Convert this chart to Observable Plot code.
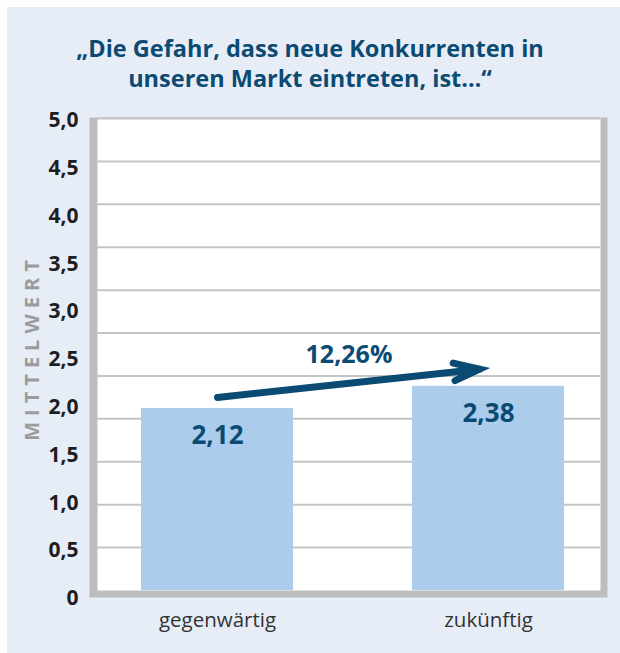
<!DOCTYPE html>
<html>
<head>
<meta charset="utf-8">
<script src="https://cdn.jsdelivr.net/npm/d3@7"></script>
<script src="https://cdn.jsdelivr.net/npm/@observablehq/plot@0.6"></script>
<style>
  body { margin: 0; background: #ffffff; }
  #page { position: relative; width: 620px; height: 653px; overflow: hidden; }
  #panel { position: absolute; left: 7px; top: 7px; right: 0; bottom: 0; background: #e6edf7; }
  #title { position: absolute; left: 0; top: 33px; width: 620px; text-align: center;
           font-family: "Open Sans", sans-serif; font-weight: 700; font-size: 23.5px;
           line-height: 30px; color: #0b4a72; }
  #chart, #axis { position: absolute; left: 0; top: 100px; }
  #axis { pointer-events: none; }
</style>
</head>
<body>
<div id="page">
  <div id="panel"></div>
  <div id="title"></div>
  <div id="chart"></div>
  <div id="axis"></div>
</div>
<script>
// ---- data ----
const titleLines = ["„Die Gefahr, dass neue Konkurrenten in", "unseren Markt eintreten, ist…“"];
const categories = ["gegenwärtig", "zukünftig"];
const values = [2.12, 2.38];
const yTickValues = [0, 0.5, 1, 1.5, 2, 2.5, 3, 3.5, 4, 4.5, 5];
const gridValues = [0.5, 1, 1.5, 2, 2.5, 3, 3.5, 4, 4.5, 5, 5.5];
const gridMax = 5.5;
const arrowY = [2.25, 2.59];
const yLabel = "MITTELWERT";

const data = categories.map((c, i) => ({cat: c, value: values[i]}));
const de = (v, d) => v.toFixed(d).replace(".", ",");
const change = (values[1] / values[0] - 1) * 100;
const changeLabel = de(change, 2) + "%";

document.getElementById("title").innerHTML = titleLines.join("<br>");

const W = 620, H = 553;
const darkBlue = "#0b4a72";

const main = Plot.plot({
  width: W, height: H,
  marginTop: 18, marginBottom: 63, marginLeft: 97, marginRight: 20,
  style: {background: "transparent", fontFamily: "'Open Sans', sans-serif", fontSize: "20.5px", color: "#333333"},
  x: {domain: categories, range: [101, 604], paddingInner: 0.44, paddingOuter: 0.147,
      tickSize: 0, tickPadding: 22, label: null},
  y: {domain: [0, gridMax], axis: null},
  marks: [
    Plot.frame({fill: "#bdbdbd", insetLeft: -8, insetRight: -7, insetBottom: -7, insetTop: -1}),
    Plot.frame({fill: "white"}),
    Plot.ruleY(gridValues, {stroke: "#c4c4c4", strokeWidth: 2}),
    Plot.barY(data, {x: "cat", y: "value", fill: "#abcdeb"}),
    Plot.text(data, {x: "cat", y: "value", text: d => de(d.value, 2), dy: 27,
      fill: darkBlue, fontSize: 26, fontWeight: "bold"}),
    Plot.arrow([{}], {x1: () => categories[0], x2: () => categories[1],
      y1: () => arrowY[0], y2: () => arrowY[1],
      stroke: darkBlue, strokeWidth: 7, headLength: 5.8, headAngle: 38, insetEnd: 9,
      strokeLinejoin: "miter", strokeMiterlimit: 10}),
    Plot.text([changeLabel], {frameAnchor: "middle", text: d => d,
      fill: darkBlue, fontSize: 25, fontWeight: "bold"}),
    Plot.text([yLabel], {frameAnchor: "left", textAnchor: "middle", text: d => d, rotate: -90,
      dx: -65, dy: -7, fill: "#9b9b9b", fontSize: 20, fontWeight: "bold"})
  ]
});
main.querySelectorAll("text").forEach(t => {
  if (t.textContent === yLabel) t.style.letterSpacing = "6px";
});
document.getElementById("chart").append(main);

const axis = Plot.plot({
  width: W, height: H,
  marginTop: 20, marginBottom: 55, marginLeft: 97, marginRight: 20,
  style: {background: "transparent", fontFamily: "'Open Sans', sans-serif", fontSize: "21px",
          fontWeight: "bold", color: "#1e1e1e"},
  y: {domain: [0, 5], ticks: yTickValues, tickSize: 0, tickPadding: 19, label: null,
      tickFormat: v => v === 0 ? "0" : de(v, 1)},
  marks: [
    Plot.tickY(yTickValues, {y: d => d, stroke: "none"})
  ]
});
document.getElementById("axis").append(axis);
</script>
</body>
</html>
